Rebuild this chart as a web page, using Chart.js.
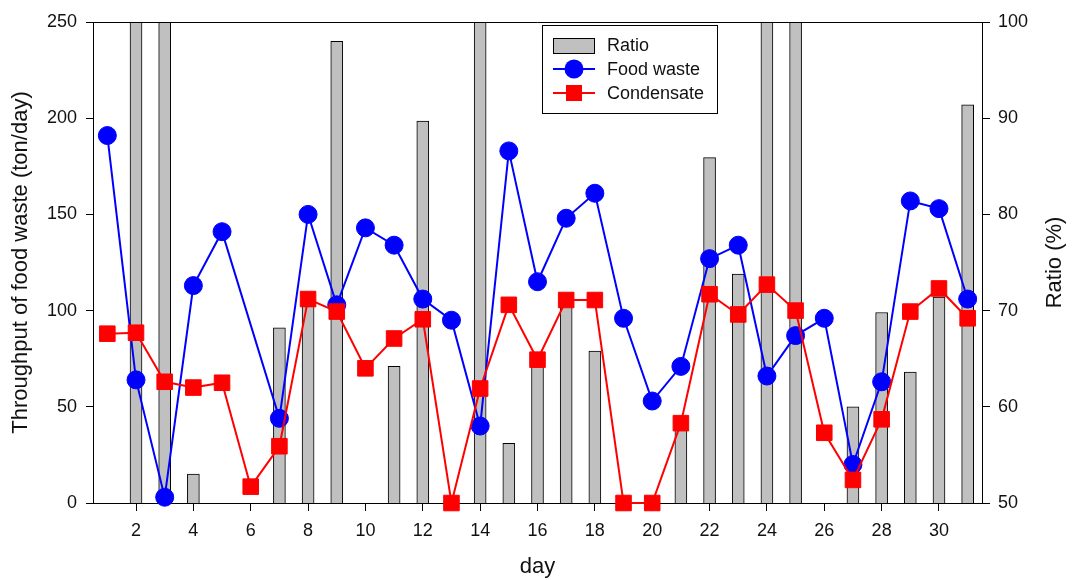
<!DOCTYPE html>
<html>
<head>
<meta charset="utf-8">
<script src="https://cdn.jsdelivr.net/npm/chart.js@4/dist/chart.umd.min.js"></script>
<style>
	html, body { margin: 0; padding: 0; background: #fff; }
</style>
</head>
<body>
<canvas id="chart" width="1072" height="580"></canvas>
<script>

//
// data
//

const days = [1, 2, 3, 4, 5, 6, 7, 8, 9, 10, 11, 12, 13, 14, 15, 16,
	17, 18, 19, 20, 21, 22, 23, 24, 25, 26, 27, 28, 29, 30, 31];
const dayTicks = [2, 4, 6, 8, 10, 12, 14, 16, 18, 20, 22, 24, 26, 28, 30];

// ratio (%) - bars, null where no bar shows, 100 where bar runs off the top
const ratio = [null, 100, 100, 53, null, null, 68.2, 70.5, 98, null, 64.2, 89.7, null, 100, 56.2, 64.8,
	70.8, 65.8, null, null, 58.5, 85.9, 73.8, 100, 100, null, 60, 69.8, 63.6, 71.4, 91.4];

// throughput (ton/day)
const foodWaste = [191, 64, 3, 113, 141, null, 44, 150, 103, 143, 134, 106, 95, 40, 183, 115,
	148, 161, 96, 53, 71, 127, 134, 66, 87, 96, 20, 63, 157, 153, 106];
const condensate = [88, 88.5, 63, 60, 62.5, 8.5, 29.5, 106, 99.5, 70, 85.5, 95.5, 0, 59.5, 103, 74.5,
	105.5, 105.5, 0, 0, 41.5, 108.5, 98, 113.5, 100, 36.5, 12, 43.5, 99.5, 111.5, 96];

const leftTicks = [0, 50, 100, 150, 200, 250];
const rightTicks = [50, 60, 70, 80, 90, 100];

//
// helpers
//

function toPoints(values) {
	return days.map((day, i) => ({x: day, y: values[i]}));
}

function setTicks(values) {
	return function(scale) {
		scale.ticks = values.map(value => ({value: value}));
	};
}

const FONT = 'Liberation Sans, Arial, sans-serif';

//
// plugins
//

const frame = {
	id: 'frame',
	afterDraw: function(chart) {
		const ctx = chart.ctx;
		const area = chart.chartArea;
		ctx.save();
		ctx.strokeStyle = '#000';
		ctx.lineWidth = 1;
		ctx.beginPath();
		ctx.moveTo(area.left, area.top + 0.5);
		ctx.lineTo(area.right, area.top + 0.5);
		ctx.stroke();

		// right axis title, reading bottom to top
		//
		ctx.fillStyle = '#111';
		ctx.font = '22px ' + FONT;
		ctx.textAlign = 'center';
		ctx.textBaseline = 'middle';
		ctx.translate(1055, (area.top + area.bottom) / 2);
		ctx.rotate(-Math.PI / 2);
		ctx.fillText('Ratio (%)', 0, 0);
		ctx.restore();
	}
};

const legendBox = {
	id: 'legendBox',
	afterDraw: function(chart) {
		const ctx = chart.ctx;
		const sets = chart.data.datasets;
		let x = 542.5, y = 25.5, w = 175, h = 88;
		ctx.save();
		ctx.fillStyle = '#fff';
		ctx.fillRect(x, y, w, h);
		ctx.strokeStyle = '#000';
		ctx.lineWidth = 1;
		ctx.strokeRect(x, y, w, h);

		// ratio swatch
		//
		ctx.fillStyle = sets[0].backgroundColor;
		ctx.fillRect(553.5, 38.5, 41, 15);
		ctx.strokeRect(553.5, 38.5, 41, 15);

		// line swatches
		//
		[1, 2].forEach(function(index, row) {
			let set = sets[index];
			let cy = 69 + row * 24;
			ctx.strokeStyle = set.borderColor;
			ctx.lineWidth = 2;
			ctx.beginPath();
			ctx.moveTo(553, cy);
			ctx.lineTo(595, cy);
			ctx.stroke();
			ctx.fillStyle = set.backgroundColor;
			if (set.pointStyle == 'circle') {
				ctx.beginPath();
				ctx.arc(574, cy, 9.5, 0, Math.PI * 2);
				ctx.fill();
			} else {
				ctx.fillRect(566, cy - 8, 16, 16);
			}
		});

		// labels
		//
		ctx.fillStyle = '#111';
		ctx.font = '18px ' + FONT;
		ctx.textBaseline = 'middle';
		ctx.textAlign = 'left';
		sets.forEach(function(set, i) {
			ctx.fillText(set.label, 607, 46 + i * 24);
		});
		ctx.restore();
	}
};

//
// chart
//

const ctx = document.getElementById('chart').getContext('2d');
const chart = new Chart(ctx, {
	type: 'bar',
	data: {
		datasets: [{
			type: 'bar',
			label: 'Ratio',
			data: toPoints(ratio),
			yAxisID: 'y1',
			backgroundColor: '#c0c0c0',
			borderColor: '#000',
			borderWidth: 1,
			borderSkipped: 'start',
			barThickness: 12,
			order: 3
		}, {
			type: 'line',
			label: 'Food waste',
			data: toPoints(foodWaste),
			yAxisID: 'y',
			borderColor: '#0000ff',
			backgroundColor: '#0000ff',
			borderWidth: 2,
			pointStyle: 'circle',
			pointRadius: 9,
			pointBorderWidth: 1,
			spanGaps: true,
			clip: false,
			order: 2
		}, {
			type: 'line',
			label: 'Condensate',
			data: toPoints(condensate),
			yAxisID: 'y',
			borderColor: '#ff0000',
			backgroundColor: '#ff0000',
			borderWidth: 2,
			pointStyle: 'rect',
			pointRadius: 11,
			pointBorderWidth: 1,
			clip: false,
			order: 1
		}]
	},
	options: {
		responsive: false,
		animation: false,
		layout: {
			padding: {top: 22, left: 0, right: 0, bottom: 0}
		},
		plugins: {
			legend: {display: false},
			tooltip: {enabled: false}
		},
		scales: {
			x: {
				type: 'linear',
				min: 0.5,
				max: 31.5,
				offset: false,
				afterBuildTicks: setTicks(dayTicks),
				afterFit: function(scale) { scale.height = 77; },
				grid: {offset: false, drawOnChartArea: false, drawTicks: true, tickLength: 8, tickColor: '#000'},
				border: {display: true, color: '#000', width: 1},
				ticks: {color: '#111', font: {family: FONT, size: 18}, padding: 9, maxRotation: 0},
				title: {display: true, text: 'day', color: '#111',
					font: {family: FONT, size: 22}, padding: {top: 1, bottom: 0}}
			},
			y: {
				type: 'linear',
				position: 'left',
				min: 0,
				max: 250,
				afterBuildTicks: setTicks(leftTicks),
				afterFit: function(scale) { scale.width = 93; },
				grid: {drawOnChartArea: false, drawTicks: true, tickLength: 7, tickColor: '#000'},
				border: {display: true, color: '#000', width: 1},
				ticks: {color: '#111', font: {family: FONT, size: 18}, padding: 9},
				title: {display: true, text: 'Throughput of food waste (ton/day)', color: '#111',
					font: {family: FONT, size: 22}, padding: {top: 8, bottom: 0}}
			},
			y1: {
				type: 'linear',
				position: 'right',
				min: 50,
				max: 100,
				afterBuildTicks: setTicks(rightTicks),
				afterFit: function(scale) { scale.width = 90; },
				grid: {drawOnChartArea: false, drawTicks: true, tickLength: 8, tickColor: '#000'},
				border: {display: true, color: '#000', width: 1},
				ticks: {color: '#111', font: {family: FONT, size: 18}, padding: 8}
			}
		}
	},
	plugins: [frame, legendBox]
});
</script>
</body>
</html>
